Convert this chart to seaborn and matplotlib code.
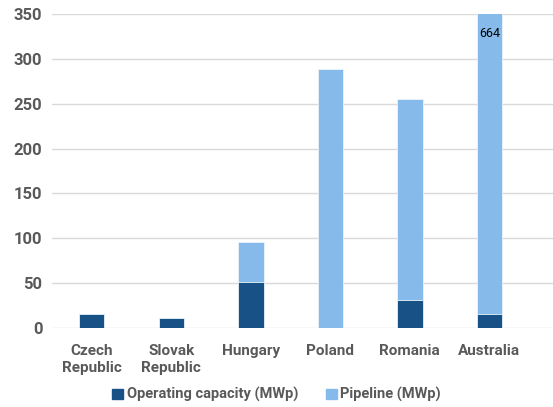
import matplotlib
matplotlib.use("Agg")
import matplotlib.pyplot as plt
import seaborn as sns
import pandas as pd
from matplotlib.patches import Patch

# values (MWp)
countries = ["Czech\nRepublic", "Slovak\nRepublic", "Hungary", "Poland", "Romania", "Australia"]
operating = [15, 10.5, 51, 0, 31, 15]
pipeline = [0, 0, 45, 289, 224, 649]

dark_blue = "#175185"
light_blue = "#86BAEB"
text_grey = "#595959"

df = pd.DataFrame({"country": countries, "operating": operating, "pipeline": pipeline})
df["total"] = df["operating"] + df["pipeline"]

sns.set_style("white")
plt.rcParams["font.family"] = ["Roboto", "DejaVu Sans"]

fig = plt.figure(figsize=(5.53, 4.07), dpi=100)
ax = fig.add_axes([0.094, 0.195, 0.906, 0.77])

# stacked: draw totals first (pipeline colour), then operating on top
sns.barplot(data=df, x="country", y="total", color=light_blue, width=0.32,
            saturation=1, ax=ax, zorder=2, edgecolor="#eaf3fb", linewidth=0.6)
sns.barplot(data=df, x="country", y="operating", color=dark_blue, width=0.32,
            saturation=1, ax=ax, zorder=3, edgecolor="#eaf3fb", linewidth=0.6)

ax.set_ylim(0, 350)
ax.set_xlim(-0.5, 5.8)
ax.set_yticks(range(0, 351, 50))
ax.yaxis.grid(True, color="#d9d9d9", linewidth=1, zorder=0)
ax.set_axisbelow(True)
for s in ax.spines.values():
    s.set_visible(False)
ax.tick_params(axis="both", length=0, colors=text_grey)
ax.tick_params(axis="y", labelsize=12, pad=7)
ax.tick_params(axis="x", labelsize=11, pad=12)
for lbl in ax.get_xticklabels() + ax.get_yticklabels():
    lbl.set_fontweight("bold")
ax.set_xlabel("")
ax.set_ylabel("")

# Australia total is off the scale, so label it
aus = countries.index("Australia")
ax.text(aus, 329, f"{int(df['total'][aus])}", ha="center", va="center",
        fontsize=9, color="black", zorder=4)

handles = [Patch(color=dark_blue, label="Operating capacity (MWp)"),
           Patch(color=light_blue, label="Pipeline (MWp)")]
leg = fig.legend(handles=handles, loc="center", bbox_to_anchor=(0.5, 0.03), ncol=2,
                 frameon=False, handlelength=0.75, handleheight=0.75, handletextpad=0.25,
                 columnspacing=1.9, prop={"size": 10.5, "weight": "bold"})
for t in leg.get_texts():
    t.set_color(text_grey)

fig.savefig("out.png", dpi=100)
